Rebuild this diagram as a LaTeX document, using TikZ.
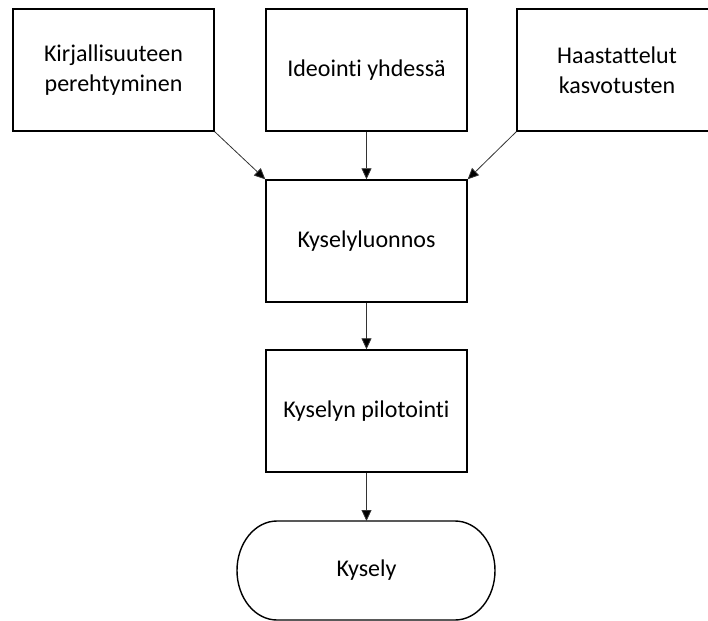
\documentclass[tikz,border=0pt]{standalone}
\usepackage{fontspec}
\setmainfont[Ligatures=NoCommon]{Carlito}
\usetikzlibrary{arrows.meta}
\begin{document}
\begin{tikzpicture}[x=1pt,y=-1pt,
  box/.style={draw=black,line width=1.4pt,minimum width=201pt,minimum height=122pt,
    align=center,font=\fontsize{24}{30}\selectfont,inner sep=0pt},
  link/.style={draw=black!80,line width=0.8pt,-{Triangle[length=11pt,width=10pt,fill=black]}}]
  \useasboundingbox (0,0) rectangle (708,620);
  \node[box] (lit) at (113.5,70) {Kirjallisuuteen\\perehtyminen};
  \node[box] (idea) at (366.5,70) {Ideointi yhdessä};
  \node[box,minimum width=200pt] (haas) at (617,70) {Haastattelut\\kasvotusten};
  \node[box] (luon) at (366.5,241) {Kyselyluonnos};
  \node[box] (pilot) at (366.5,411) {Kyselyn pilotointi};
  % terminal shape with rounded ends
  \coordinate (kysT) at (366.5,521);
  \draw[line width=1.4pt] (277,521) -- (455,521)
    arc[start angle=-90,end angle=90,x radius=40,y radius=49.5] -- (277,620)
    arc[start angle=90,end angle=270,x radius=40,y radius=49.5] -- cycle;
  \node[font=\fontsize{24}{30}\selectfont] (kys) at (366.5,570) {Kysely};
  \draw[link] (lit.south east) -- (luon.north west);
  \draw[link] (idea.south) -- (luon.north);
  \draw[link] (haas.south west) -- (luon.north east);
  \draw[link] (luon.south) -- (pilot.north);
  \draw[link] (pilot.south) -- (kysT);
\end{tikzpicture}
\end{document}
